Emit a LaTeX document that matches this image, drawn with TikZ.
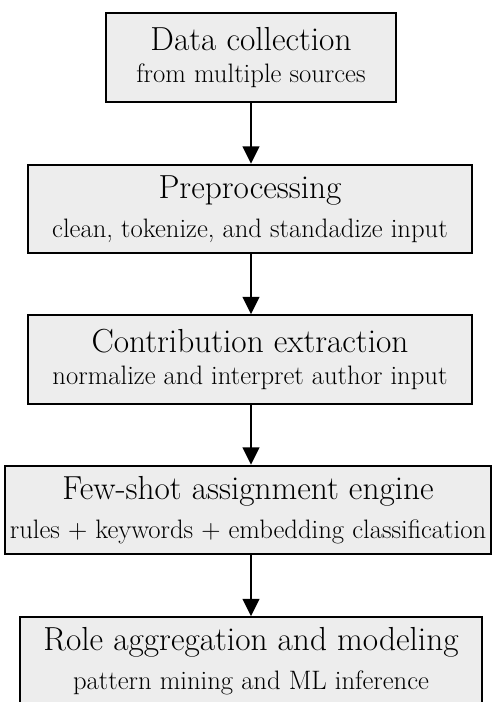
\documentclass[tikz,border=0pt]{standalone}
\usepackage{fontspec}
\usetikzlibrary{positioning,arrows.meta,scopes}

\newcommand{\boxtitle}{\fontsize{25}{26}\selectfont}
\newcommand{\boxsub}{\fontsize{20}{22}\selectfont}

\begin{document}
\begin{tikzpicture}[x=0.75pt,y=-0.75pt,
    stage/.style={rectangle,draw=black,fill=black!7,line width=1.4pt,
        minimum height=66.5pt,align=center,inner sep=0pt},
    flow/.style={-{Triangle[width=12.5pt,length=13pt]},line width=1.4pt}]
    \useasboundingbox (0,0) rectangle (493,702);
        \node[stage,minimum width=217.5pt] (collect) at (251,57.5) {\boxtitle Data collection\\[9pt] \boxsub from multiple sources};
        \node[stage,minimum width=333pt] (prep) at (250,209) {\boxtitle Preprocessing\\[9pt] \boxsub clean, tokenize, and standadize input};
        \node[stage,minimum width=333pt] (extract) at (250,359.5) {\boxtitle Contribution extraction\\[9pt] \boxsub normalize and interpret author input};
        \node[stage,minimum width=364.5pt] (assign) at (248,510) {\boxtitle Few-shot assignment engine\\[9pt] \boxsub rules + keywords + embedding classification};
        \node[stage,minimum width=346.5pt] (roles) at (251,661.5) {\boxtitle Role aggregation and modeling\\[9pt] \boxsub pattern mining and ML inference};
        {[flow]
        \draw (collect.south) -- (collect.south |- prep.north);
        \draw (collect.south |- prep.south) -- (collect.south |- extract.north);
        \draw (collect.south |- extract.south) -- (collect.south |- assign.north);
        \draw (collect.south |- assign.south) -- (collect.south |- roles.north);
        }
\end{tikzpicture}
\end{document}
